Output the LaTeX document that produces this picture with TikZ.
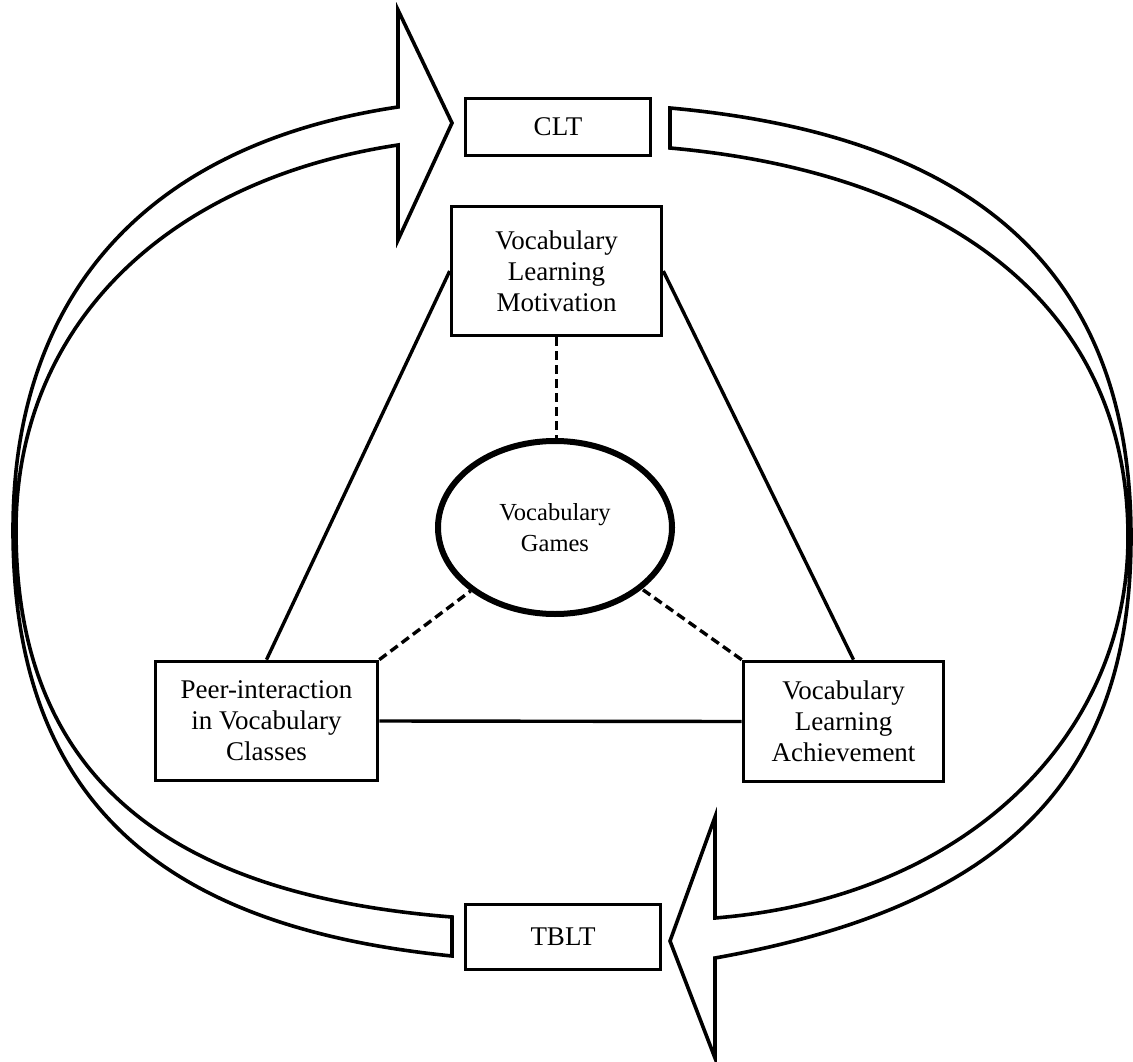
\documentclass[tikz,border=0pt]{standalone}
\usepackage{fontspec}
\setmainfont{Liberation Serif}
\usetikzlibrary{shapes.geometric}
\tikzset{
  box/.style={draw, line width=3.6pt, fill=white, align=center, inner sep=0pt,
    font=\fontsize{27}{31}\selectfont},
  gamesnode/.style={draw, ellipse, line width=6pt, fill=white, align=center, inner sep=0pt,
    font=\fontsize{24.5}{31.5}\selectfont},
  band/.style={draw, line width=3.6pt, line join=miter, fill=white},
  link/.style={line width=3.4pt},
  dlink/.style={line width=3.4pt, dash pattern=on 9pt off 5pt},
}
\begin{document}
\begin{tikzpicture}[x=1pt, y=-1pt]
\useasboundingbox (0,0) rectangle (1133,1062);

% big curved arrows
\draw[band] (452,956) .. controls (172,928) and (13,810) .. (13,530)
  .. controls (13,310) and (131,147) .. (398,107)
  -- (398,10) -- (452,123) -- (398,240) -- (398,145)
  .. controls (161,181) and (16,330) .. (16,530)
  .. controls (16,780) and (172,895) .. (452,917) -- cycle;

\draw[band] (670,108) .. controls (970,135) and (1131,267) .. (1131,537)
  .. controls (1131,787) and (995,908) .. (715,958)
  -- (715,1058) -- (670,941) -- (715,817) -- (715,918)
  .. controls (965,898) and (1128,737) .. (1128,537)
  .. controls (1128,307) and (950,173) .. (670,148) -- cycle;

% nodes
\node[box, minimum width=185pt, minimum height=57pt] (clt) at (558,127) {CLT};
\node[box, minimum width=195pt, minimum height=65pt] (tblt) at (563,937) {TBLT};
\node[box, minimum width=210pt, minimum height=129pt] (mot) at (556.5,271)
  {Vocabulary\\Learning\\Motivation};
\node[box, minimum width=222pt, minimum height=119pt] (peer) at (266.5,721)
  {Peer-interaction\\in Vocabulary\\Classes};
\node[box, minimum width=200pt, minimum height=120pt] (ach) at (843.5,721.5)
  {Vocabulary\\Learning\\Achievement};
\node[gamesnode, minimum width=234pt, minimum height=173pt] (games) at (555,527.5)
  {Vocabulary\\Games};

% connectors
\draw[link] (mot.west) -- (peer.north);
\draw[link] (mot.east) -- ([xshift=10pt]ach.north);
\draw[link] (peer.east) -- (ach.west);
\draw[dlink] (mot.south) -- (mot.south |- games.north);
\draw[dlink] (peer.north east) -- (games);
\draw[dlink] (ach.north west) -- (games);
\end{tikzpicture}
\end{document}
